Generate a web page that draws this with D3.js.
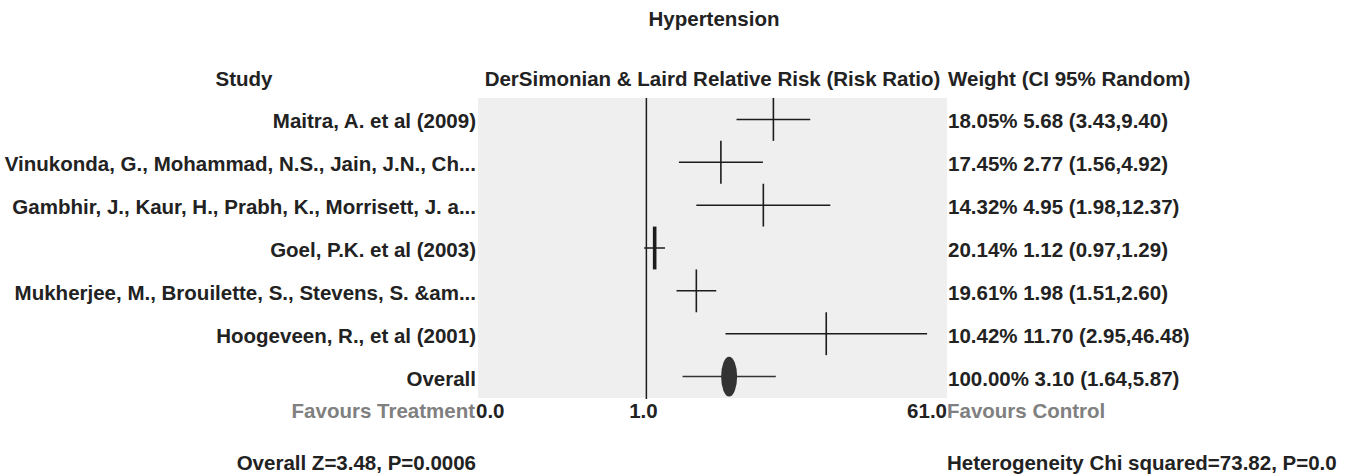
<!DOCTYPE html>
<html>
<head>
<meta charset="utf-8">
<script src="https://cdn.jsdelivr.net/npm/d3@7"></script>
<style>
  html, body { margin: 0; padding: 0; background: #fff; }
  svg text { font-family: "Liberation Sans", Arial, sans-serif; font-weight: bold; }
</style>
</head>
<body>
<svg id="chart" width="1348" height="474"></svg>
<script>
// ---- data ----
const title = "Hypertension";
const studies = [
  "Maitra, A. et al (2009)",
  "Vinukonda, G., Mohammad, N.S., Jain, J.N., Ch...",
  "Gambhir, J., Kaur, H., Prabh, K., Morrisett, J. a...",
  "Goel, P.K. et al (2003)",
  "Mukherjee, M., Brouilette, S., Stevens, S. &am...",
  "Hoogeveen, R., et al (2001)"
];
const weights = [18.05, 17.45, 14.32, 20.14, 19.61, 10.42];
const rr      = [5.68, 2.77, 4.95, 1.12, 1.98, 11.70];
const lower   = [3.43, 1.56, 1.98, 0.97, 1.51, 2.95];
const upper   = [9.40, 4.92, 12.37, 1.29, 2.60, 46.48];
const overall = { label: "Overall", weight: 100.00, rr: 3.10, lo: 1.64, hi: 5.87 };
const axisDomain = [0.1, 61];
const tickValues = [0.1, 1, 61];
const tickLabels = ["0.0", "1.0", "61.0"];
const headers = ["Study", "DerSimonian & Laird Relative Risk (Risk Ratio)", "Weight (CI 95% Random)"];
const favours = ["Favours Treatment", "Favours Control"];
const footerLeft = "Overall Z=3.48, P=0.0006";
const footerRight = "Heterogeneity Chi squared=73.82, P=0.0";

// ---- layout ----
const svg = d3.select("#chart");
const plot = { left: 478, right: 947, top: 98, bottom: 398 };
const fs = 20.5;
const textCol = "#222";
const lineCol = "#1c1c1c";

const rows = studies.map((s, i) => ({ label: s, w: weights[i], rr: rr[i], lo: lower[i], hi: upper[i] }));
const allRows = rows.concat([{ label: overall.label, w: overall.weight, rr: overall.rr, lo: overall.lo, hi: overall.hi, overall: true }]);

const x = d3.scaleLog().domain(axisDomain).range([plot.left, plot.right]);
const y = d3.scaleBand().domain(d3.range(allRows.length)).range([plot.top, plot.bottom]);
const maxW = d3.max(weights);

// title
svg.append("text").attr("x", 714).attr("y", 26).attr("text-anchor", "middle")
  .attr("font-size", fs).attr("fill", textCol).text(title);

// headers
svg.append("text").attr("x", 244).attr("y", 86).attr("text-anchor", "middle")
  .attr("font-size", fs).attr("fill", textCol).text(headers[0]);
svg.append("text").attr("x", (plot.left + plot.right) / 2).attr("y", 86).attr("text-anchor", "middle")
  .attr("font-size", fs).attr("fill", textCol).text(headers[1]);
svg.append("text").attr("x", plot.right + 1).attr("y", 86).attr("text-anchor", "start")
  .attr("font-size", fs).attr("fill", textCol).text(headers[2]);

// plot background
svg.append("rect").attr("x", plot.left).attr("y", plot.top)
  .attr("width", plot.right - plot.left).attr("height", plot.bottom - plot.top)
  .attr("fill", "#efefef");

// reference line at 1
svg.append("line").attr("x1", x(1)).attr("x2", x(1))
  .attr("y1", plot.top).attr("y2", plot.bottom + 1)
  .attr("stroke", lineCol).attr("stroke-width", 1.5);

const g = svg.append("g");
allRows.forEach((d, i) => {
  const yc = y(i) + y.bandwidth() / 2;
  // CI line
  g.append("line").attr("x1", x(d.lo)).attr("x2", x(d.hi))
    .attr("y1", yc).attr("y2", yc).attr("stroke", d.overall ? "#333" : lineCol).attr("stroke-width", 1.5);
  if (d.overall) {
    g.append("ellipse").attr("cx", x(d.rr)).attr("cy", yc)
      .attr("rx", 8).attr("ry", y.bandwidth() / 2 - 1.5).attr("fill", "#333");
  } else {
    g.append("line").attr("x1", x(d.rr)).attr("x2", x(d.rr))
      .attr("y1", y(i)).attr("y2", y(i) + y.bandwidth())
      .attr("stroke", lineCol).attr("stroke-width", d.w === maxW ? 3.6 : 1.6);
  }
  // left label
  svg.append("text").attr("x", 476).attr("y", yc + 9).attr("text-anchor", "end")
    .attr("font-size", fs).attr("fill", textCol).text(d.label);
  // right label
  svg.append("text").attr("x", plot.right + 1).attr("y", yc + 9).attr("text-anchor", "start")
    .attr("font-size", fs).attr("fill", textCol)
    .text(d.w.toFixed(2) + "% " + d.rr.toFixed(2) + " (" + d.lo.toFixed(2) + "," + d.hi.toFixed(2) + ")");
});

// axis labels
const axisY = 418;
const anchors = ["start", "middle", "end"];
const offs = [-2, -3, 0];
tickValues.forEach((v, i) => {
  svg.append("text").attr("x", x(v) + offs[i]).attr("y", axisY).attr("text-anchor", anchors[i])
    .attr("font-size", fs).attr("fill", textCol).text(tickLabels[i]);
});
svg.append("text").attr("x", plot.left - 3).attr("y", axisY).attr("text-anchor", "end")
  .attr("font-size", fs).attr("fill", "#808080").text(favours[0]);
svg.append("text").attr("x", plot.right).attr("y", axisY).attr("text-anchor", "start")
  .attr("font-size", fs).attr("fill", "#808080").text(favours[1]);

// footer
svg.append("text").attr("x", 476).attr("y", 470).attr("text-anchor", "end")
  .attr("font-size", fs).attr("fill", textCol).text(footerLeft);
svg.append("text").attr("x", plot.right).attr("y", 470).attr("text-anchor", "start")
  .attr("font-size", fs).attr("fill", textCol).text(footerRight);
</script>
</body>
</html>
